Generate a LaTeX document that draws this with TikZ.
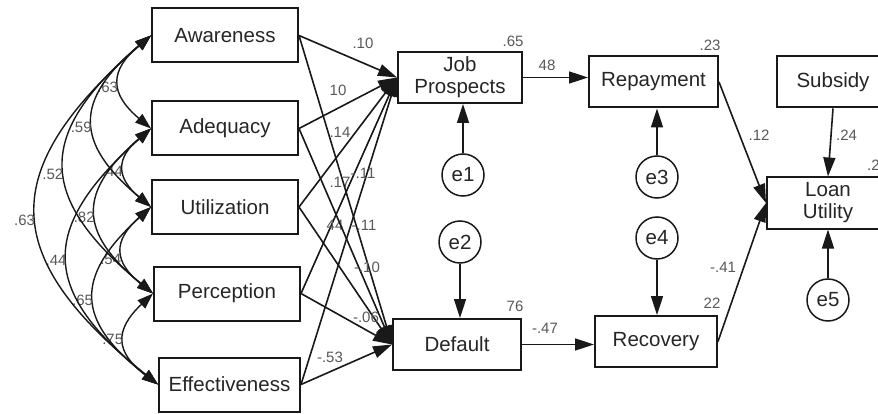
\documentclass[tikz,border=0pt]{standalone}
\usepackage{fontspec}
\setmainfont{Liberation Sans}
\usetikzlibrary{arrows.meta}

\begin{document}
\begin{tikzpicture}[x=1pt,y=1pt,
    box/.style={draw=black!90,line width=2pt,text=black!85,align=center,inner sep=0pt,
      font=\fontsize{20.5}{22}\selectfont},
    err/.style={draw=black!90,circle,line width=1.5pt,minimum size=42pt,inner sep=0pt,
      text=black!85,font=\fontsize{20.5}{22}\selectfont},
    lbl/.style={text=black!65,inner sep=1pt,font=\fontsize{15}{17}\selectfont},
    reg/.style={draw=black!90,line width=1.6pt,-{Triangle[length=19pt,width=12pt]}},
    cov/.style={draw=black!90,line width=1.4pt,
      {Triangle[length=16pt,width=11pt]}-{Triangle[length=16pt,width=11pt]},
      bend right=50,looseness=1.5}]

  \clip (0,0) rectangle (878,413);
  \fill[white] (0,0) rectangle (878,413);

  % exogenous variables
  \begin{scope}[every node/.style={box,minimum width=146pt,minimum height=54pt}]
    \node (aw) at (225,377.5)  {Awareness};
    \node (ad) at (225,284.5)  {Adequacy};
    \node (ut) at (225,206)    {Utilization};
    \node (pe) at (227,119.5)  {Perception};
    \node[minimum width=141pt] (ef) at (229.5,28.5) {Effectiveness};
  \end{scope}

  % endogenous variables
  \begin{scope}[every node/.style={box,minimum height=51pt}]
    \node[minimum width=124pt] (jp)   at (460,335.5) {Job\\Prospects};
    \node[minimum width=129pt] (rep)  at (653.5,331) {Repayment};
    \node[minimum width=112pt] (sub)  at (833,331)   {Subsidy};
    \node[minimum width=122pt] (loan) at (828,210)   {Loan\\Utility};
    \node[minimum width=128pt] (def)  at (457,68.5)  {Default};
    \node[minimum width=122pt] (rec)  at (656,71.5)  {Recovery};
  \end{scope}

  % error terms
  \begin{scope}[every node/.style={err}]
    \node (e1) at (463,238) {e1};
    \node (e2) at (460,171) {e2};
    \node (e3) at (657,236) {e3};
    \node (e4) at (657,175) {e4};
    \node (e5) at (828,113) {e5};
  \end{scope}

  % squared multiple correlations
  \begin{scope}[every node/.style={lbl}]
    \node (r2jp)  at (513,372) {.65};
    \node (r2rep) at (710,368) {.23};
    \node (r2def) at (515,107) {76};
    \node (r2rec) at (712,110) {22};
    \node[anchor=west] (r2loan) at (866,248) {.2};
  \end{scope}

  % covariances
  \path (aw.west) edge[cov] node[lbl,left,yshift=-5pt] {.63} (ad.west);
  \path (ad.west) edge[cov] node[lbl,left,yshift=-4pt] {.44} (ut.west);
  \path (ut.west) edge[cov] node[lbl,left,yshift=-8pt] {.54} (pe.west);
  \path (pe.west) edge[cov] node[lbl,left,yshift=1pt]  {.75} (ef.west);
  \path (aw.west) edge[cov] node[lbl,left,yshift=-6pt] {.59} (ut.west);
  \path (ad.west) edge[cov] node[lbl,left,yshift=-6pt] {.82} (pe.west);
  \path (ut.west) edge[cov] node[lbl,left,yshift=-2pt] {.65} (ef.west);
  \path (aw.west) edge[cov] node[lbl,left,yshift=-9pt] {.52} (pe.west);
  \path (ad.west) edge[cov] node[lbl,left,yshift=-1pt] {.44} (ef.west);
  \path (aw.west) edge[cov] node[lbl,left,yshift=-8pt] {.63} (ef.west);

  % regression weights
  \begin{scope}[every node/.style={lbl}]
    \path (aw.east) edge[reg] node[xshift=15pt,yshift=13.5pt]  {.10}  (jp.west);
    \path (ad.east) edge[reg] node[xshift=-10pt,yshift=13pt]   {10}   (jp.west);
    \path (ut.east) edge[reg] node[xshift=-8pt,yshift=10pt]    {.14}  (jp.west);
    \path (pe.east) edge[reg] node[xshift=-9pt,yshift=3.5pt]   {.17}  (jp.west);
    \path (ef.east) edge[reg] node[xshift=-14pt,yshift=6pt]    {44}   (jp.west);
    \path (aw.east) edge[reg] node[xshift=17.5pt,yshift=17pt]  {-.11} (def.west);
    \path (ad.east) edge[reg] node[xshift=18.5pt,yshift=11.5pt]{-.11} (def.west);
    \path (ut.east) edge[reg] node[xshift=21.5pt,yshift=8pt]   {-.10} (def.west);
    \path (pe.east) edge[reg] node[xshift=19.5pt,yshift=2pt]   {-.06} (def.west);
    \path (ef.east) edge[reg] node[xshift=-16.5pt,yshift=7.5pt]{-.53} (def.west);

    \path (jp.east)  edge[reg] node[xshift=-8.5pt,yshift=12.5pt] {48}   (jp.east -| rep.west);
    \path (def.east) edge[reg] node[xshift=-13pt,yshift=16.5pt]  {-.47} (def.east -| rec.west);
    \path (rep.east) edge[reg] node[xshift=16.5pt,yshift=7.5pt]  {.12}  (loan.west);
    \path (rec.east) edge[reg] node[xshift=-19pt,yshift=5pt]     {-.41} (loan.west);
    \path (sub.south) edge[reg] node[xshift=16pt,yshift=7pt]     {.24}  (loan.north);
  \end{scope}

  % residual paths
  \path (e1) edge[reg] (e1 |- jp.south);
  \path (e2) edge[reg] (e2 |- def.north);
  \path (e3) edge[reg] (e3 |- rep.south);
  \path (e4) edge[reg] (e4 |- rec.north);
  \path (e5) edge[reg] (e5 |- loan.south);

\end{tikzpicture}
\end{document}
